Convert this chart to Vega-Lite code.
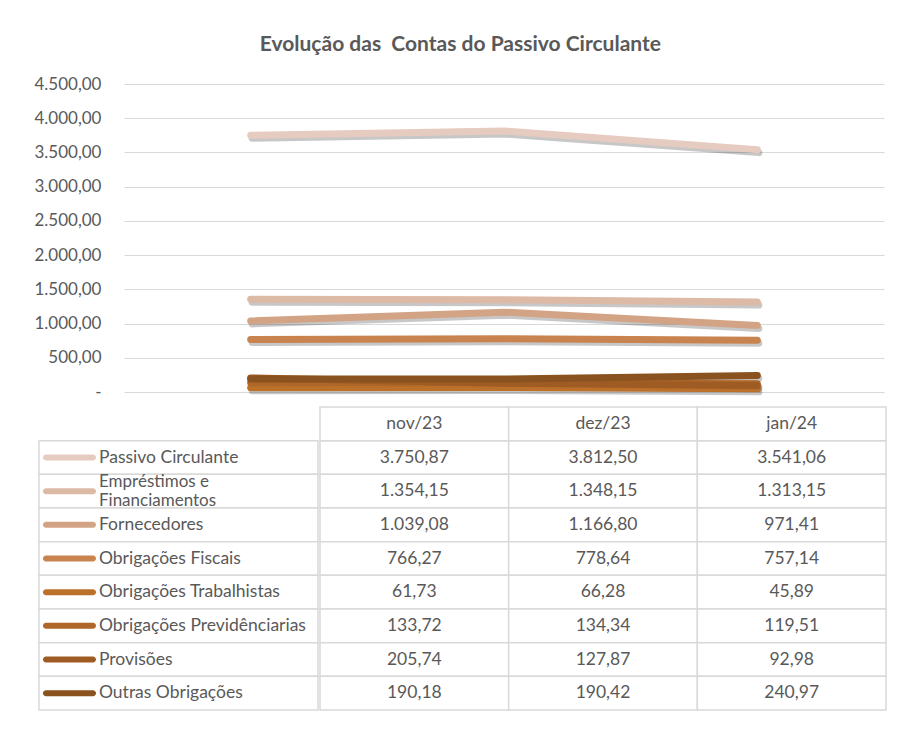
{
  "$schema": "https://vega.github.io/schema/vega-lite/v6.json",
  "padding": {"left": 33, "top": 34, "right": 5, "bottom": 5},
  "background": "white",
  "title": {"text": "Evolução das \u00a0Contas do Passivo Circulante", "font": "Lato", "fontSize": 21, "fontWeight": "bold", "color": "#595959", "anchor": "middle", "offset": 20},
  "config": {
    "view": {"stroke": null},
    "font": "Lato",
    "locale": {"number": {"decimal": ",", "thousands": ".", "grouping": [3], "currency": ["R$ ", ""]}}
  },
  "datasets": {
    "contas": [
      {"conta": "Passivo Circulante", "mes": "nov/23", "valor": 3750.87},
      {"conta": "Passivo Circulante", "mes": "dez/23", "valor": 3812.50},
      {"conta": "Passivo Circulante", "mes": "jan/24", "valor": 3541.06},
      {"conta": " Empréstimos e\nFinanciamentos", "mes": "nov/23", "valor": 1354.15},
      {"conta": " Empréstimos e\nFinanciamentos", "mes": "dez/23", "valor": 1348.15},
      {"conta": " Empréstimos e\nFinanciamentos", "mes": "jan/24", "valor": 1313.15},
      {"conta": "Fornecedores", "mes": "nov/23", "valor": 1039.08},
      {"conta": "Fornecedores", "mes": "dez/23", "valor": 1166.80},
      {"conta": "Fornecedores", "mes": "jan/24", "valor": 971.41},
      {"conta": "Obrigações Fiscais", "mes": "nov/23", "valor": 766.27},
      {"conta": "Obrigações Fiscais", "mes": "dez/23", "valor": 778.64},
      {"conta": "Obrigações Fiscais", "mes": "jan/24", "valor": 757.14},
      {"conta": "Obrigações Trabalhistas", "mes": "nov/23", "valor": 61.73},
      {"conta": "Obrigações Trabalhistas", "mes": "dez/23", "valor": 66.28},
      {"conta": "Obrigações Trabalhistas", "mes": "jan/24", "valor": 45.89},
      {"conta": "Obrigações Previdênciarias", "mes": "nov/23", "valor": 133.72},
      {"conta": "Obrigações Previdênciarias", "mes": "dez/23", "valor": 134.34},
      {"conta": "Obrigações Previdênciarias", "mes": "jan/24", "valor": 119.51},
      {"conta": "Provisões", "mes": "nov/23", "valor": 205.74},
      {"conta": "Provisões", "mes": "dez/23", "valor": 127.87},
      {"conta": "Provisões", "mes": "jan/24", "valor": 92.98},
      {"conta": "Outras Obrigações", "mes": "nov/23", "valor": 190.18},
      {"conta": "Outras Obrigações", "mes": "dez/23", "valor": 190.42},
      {"conta": "Outras Obrigações", "mes": "jan/24", "valor": 240.97}
    ]
  },
  "resolve": {"scale": {"x": "independent", "y": "independent", "color": "independent"}},
  "spacing": 6,
  "vconcat": [
    {
      "width": 760,
      "height": 308,
      "data": {"name": "contas"},
      "encoding": {
        "x": {"field": "mes", "type": "ordinal", "sort": ["nov/23", "dez/23", "jan/24"], "scale": {"type": "point", "padding": 0.5}, "axis": null},
        "y": {"field": "valor", "type": "quantitative", "scale": {"domain": [0, 4500]},
          "axis": {"values": [0, 500, 1000, 1500, 2000, 2500, 3000, 3500, 4000, 4500], "title": null, "domain": false, "ticks": false, "labelPadding": 23, "grid": true, "gridColor": "#d9d9d9", "gridWidth": 1.2, "labelFont": "Lato", "labelFontSize": 17, "labelColor": "#595959", "format": ",.2f", "labelExpr": "datum.value === 0 ? '-' : datum.label"}}
      },
      "layer": [
        {
          "mark": {"type": "line", "strokeWidth": 7, "strokeCap": "round", "strokeJoin": "round", "color": "#000000", "opacity": 0.22, "xOffset": 1.5, "yOffset": 3},
          "encoding": {"detail": {"field": "conta", "type": "nominal"}}
        },
        {
          "mark": {"type": "line", "strokeWidth": 7, "strokeCap": "round", "strokeJoin": "round"},
          "encoding": {
            "color": {"field": "conta", "type": "nominal", "legend": null,
              "scale": {"domain": ["Passivo Circulante", " Empréstimos e\nFinanciamentos", "Fornecedores", "Obrigações Fiscais", "Obrigações Trabalhistas", "Obrigações Previdênciarias", "Provisões", "Outras Obrigações"],
                "range": ["#E6CBC0", "#DDBAA5", "#D3A386", "#C8834F", "#BC712B", "#AE6629", "#9E5C24", "#8A521E"]}}
          }
        }
      ]
    },
    {
      "spacing": 0,
      "hconcat": [
        {
          "width": 194,
          "height": 303,
          "data": {"name": "contas"},
          "transform": [{"filter": "datum.mes === 'nov/23'"}],
          "encoding": {
            "y": {"field": "conta", "type": "nominal", "axis": null,
              "scale": {"type": "band", "paddingInner": 0, "paddingOuter": 0, "domain": ["_h", "Passivo Circulante", " Empréstimos e\nFinanciamentos", "Fornecedores", "Obrigações Fiscais", "Obrigações Trabalhistas", "Obrigações Previdênciarias", "Provisões", "Outras Obrigações"]}}
          },
          "layer": [
            {
              "mark": {"type": "rect", "fill": "white", "stroke": "#d9d9d9", "strokeWidth": 1.5},
              "encoding": {
                "x": {"datum": 0, "type": "quantitative", "axis": null, "scale": {"domain": [0.3047, 1], "nice": false, "zero": false}},
                "x2": {"datum": 1}
              }
            },
            {
              "mark": {"type": "tick", "orient": "horizontal", "size": 53, "thickness": 6, "cornerRadius": 3, "opacity": 1},
              "encoding": {
                "x": {"datum": 0.1093, "type": "quantitative"},
                "color": {"field": "conta", "type": "nominal", "legend": null,
                  "scale": {"domain": ["Passivo Circulante", " Empréstimos e\nFinanciamentos", "Fornecedores", "Obrigações Fiscais", "Obrigações Trabalhistas", "Obrigações Previdênciarias", "Provisões", "Outras Obrigações"],
                    "range": ["#E6CBC0", "#DDBAA5", "#D3A386", "#C8834F", "#BC712B", "#AE6629", "#9E5C24", "#8A521E"]}}
              }
            },
            {
              "transform": [{"filter": "indexof(datum.conta, '\\n') < 0"}],
              "mark": {"type": "text", "align": "left", "baseline": "middle", "font": "Lato", "fontSize": 17.5, "color": "#595959"},
              "encoding": {
                "x": {"datum": 0.215, "type": "quantitative"},
                "text": {"field": "conta", "type": "nominal"}
              }
            },
            {
              "transform": [{"filter": "indexof(datum.conta, '\\n') >= 0"}],
              "mark": {"type": "text", "align": "left", "baseline": "middle", "font": "Lato", "fontSize": 17, "color": "#595959", "lineBreak": "\n", "lineHeight": 19, "dy": -9.5},
              "encoding": {
                "x": {"datum": 0.215, "type": "quantitative"},
                "text": {"field": "conta", "type": "nominal"}
              }
            }
          ]
        },
        {
          "width": 566,
          "height": 303,
          "data": {"name": "contas"},
          "encoding": {
            "x": {"field": "mes", "type": "nominal", "axis": null, "scale": {"type": "band", "paddingInner": 0, "paddingOuter": 0, "domain": ["nov/23", "dez/23", "jan/24"]}},
            "y": {"field": "conta", "type": "nominal", "axis": null,
              "scale": {"type": "band", "paddingInner": 0, "paddingOuter": 0, "domain": ["_h", "Passivo Circulante", " Empréstimos e\nFinanciamentos", "Fornecedores", "Obrigações Fiscais", "Obrigações Trabalhistas", "Obrigações Previdênciarias", "Provisões", "Outras Obrigações"]}}
          },
          "layer": [
            {"mark": {"type": "rect", "fill": "white", "stroke": "#d9d9d9", "strokeWidth": 1.5}},
            {
              "transform": [{"filter": "datum.conta === 'Passivo Circulante'"}],
              "mark": {"type": "rect", "fill": "white", "stroke": "#d9d9d9", "strokeWidth": 1.5},
              "encoding": {"y": {"datum": "_h", "type": "nominal"}}
            },
            {
              "mark": {"type": "text", "align": "center", "baseline": "middle", "font": "Lato", "fontSize": 17.5, "color": "#595959"},
              "encoding": {"text": {"field": "valor", "type": "quantitative", "format": ",.2f"}}
            },
            {
              "transform": [{"filter": "datum.conta === 'Passivo Circulante'"}],
              "mark": {"type": "text", "align": "center", "baseline": "middle", "font": "Lato", "fontSize": 17.5, "color": "#595959"},
              "encoding": {"y": {"datum": "_h", "type": "nominal"}, "text": {"field": "mes", "type": "nominal"}}
            }
          ]
        }
      ]
    }
  ]
}
